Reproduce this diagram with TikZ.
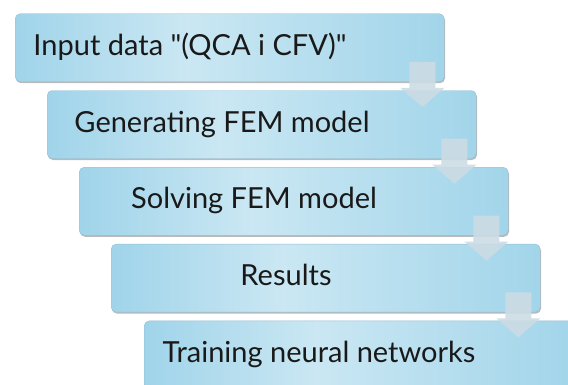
\documentclass[tikz,border=0pt]{standalone}
\usepackage{fontspec}
\setmainfont{Lato}
\usetikzlibrary{calc,shadows}
\definecolor{bleft}{RGB}{160,212,234}
\definecolor{bmid}{RGB}{202,231,243}
\definecolor{bright}{RGB}{162,213,234}
\definecolor{arrowc}{RGB}{204,220,228}
\definecolor{edgec}{RGB}{150,190,210}
\pgfdeclarehorizontalshading{boxshade}{100bp}{color(0bp)=(bleft); color(25bp)=(bleft); color(45bp)=(bmid); color(75bp)=(bright); color(100bp)=(bright)}
\begin{document}
\begin{tikzpicture}[x=1pt,y=-1pt,
  stepbox/.style={rectangle, rounded corners=5pt, minimum width=429pt, minimum height=68pt,
    anchor=north west, inner sep=0pt, shading=boxshade, draw=edgec, line width=0.4pt,
    drop shadow={shadow xshift=0.8pt, shadow yshift=-1.5pt, opacity=0.45, fill=black!60}},
  steptext/.style={font=\fontsize{29}{34}\selectfont, text=black!90, anchor=base, inner sep=0pt},
  flowarrow/.style={fill=arrowc, fill opacity=0.9, draw=none}]
\clip (0,0) rectangle (568,384);
\node[stepbox] (b1) at (15,13.5) {};
\node[stepbox] (b2) at (47,90.3) {};
\node[stepbox] (b3) at (79,167.1) {};
\node[stepbox] (b4) at (111,243.9) {};
\node[stepbox] (b5) at (144,320.7) {};
\node[steptext] (t1) at ($(b1.north west)+(175,41.7)$) {Input data \textquotedbl(QCA i CFV)\textquotedbl};
\node[steptext] (t2) at ($(b2.north west)+(175,41.7)$) {Generating FEM model};
\node[steptext] (t3) at ($(b3.north west)+(175,41.7)$) {Solving FEM model};
\node[steptext] (t4) at ($(b4.north west)+(175,41.7)$) {Results};
\node[steptext] (t5) at ($(b5.north west)+(175,41.7)$) {Training neural networks};
\foreach \i in {1,2,3,4}{
  \fill[flowarrow] ($(b\i.south east)+(-35,-20)$) -- ++(26,0) -- ++(0,26) -- ++(9,0)
    -- ($(b\i.south east)+(-22,25)$) -- ($(b\i.south east)+(-44,6)$) -- ++(9,0) -- cycle;
}
\end{tikzpicture}
\end{document}
